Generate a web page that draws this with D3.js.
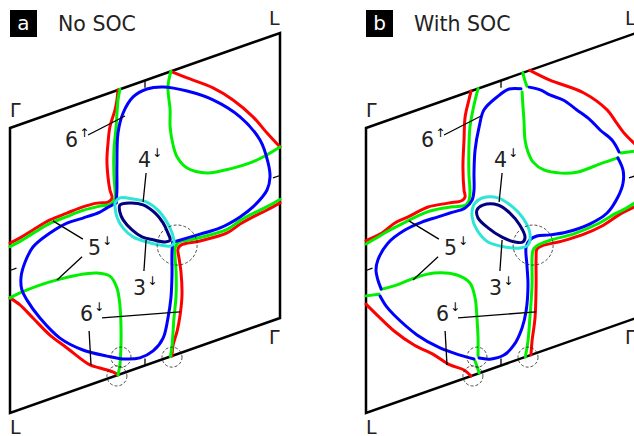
<!DOCTYPE html>
<html>
<head>
<meta charset="utf-8">
<script src="https://cdn.jsdelivr.net/npm/d3@7"></script>
<style>
  body { margin: 0; background: #fff; }
  svg { display: block; font-family: "DejaVu Sans", Verdana, sans-serif; }
</style>
</head>
<body>
<div id="chart"></div>
<script>
// contour points in cell coordinates: [along top edge %, down the side %]

// --- panel a, no SOC
const redTopA = [[59.6,0],[65.6,4.3],[75.2,11.0],[82.6,17.7],[90.0,26.1],[95.2,33.5],[100,40.0]];
const greenTopA = [[59.6,0],[58.5,5.1],[59.3,13.4],[59.3,19.4],[60.4,26.1],[61.9,30.8],[65.6,35.9],[73.0,40.1],[82.6,41.6],[88.9,41.9],[93.7,41.4],[100,40.0]];
const blueUpA = [[39.3,39.4],[39.6,34.9],[39.6,26.9],[40.0,15.1],[41.9,8.7],[45.6,4.3],[50.7,3.2],[56.7,4.5],[65.6,8.9],[75.2,15.2],[85.2,24.5],[92.6,35.1],[95.6,44.1],[96.3,49.3],[95.2,53.5],[90.0,57.7],[85.2,59.6],[77.8,61.0],[70.4,60.7],[60.3,60.2]];
const blueLowA = [[39.3,39.4],[35.9,40.0],[33.3,40.6],[27.0,40.6],[21.1,40.4],[14.8,41.8],[8.5,44.6],[5.6,48.9],[4.1,53.6],[4.4,58.3],[6.3,62.5],[11.1,70.4],[18.5,79.9],[27.0,86.9],[35.9,92.0],[41.9,95.0],[48.1,96.7],[53.0,95.9],[56.7,92.6],[58.5,86.2],[59.6,79.5],[60.0,71.6],[60.0,63.2],[60.3,60.2]];
const redLeftA = [[40.0,0],[39.6,3.4],[38.9,6.6],[37.0,12.0],[36.3,17.4],[35.9,23.2],[36.3,29.3],[37.0,34.1],[37.8,37.2],[36.3,38.1],[32.2,37.1],[27.0,36.7],[21.1,36.9],[14.8,37.2],[8.5,38.6],[3.7,39.8],[0,40.4]];
const greenLeftA = [[40.7,0],[40.0,3.5],[39.3,12.7],[38.5,20.6],[38.5,29.3],[38.9,34.7],[38.9,37.5],[37.4,39.1],[33.3,38.5],[27.0,37.9],[21.1,38.1],[14.8,38.4],[8.5,39.8],[3.7,41.0],[0,41.6]];
const redLowA = [[0,59.6],[3.7,63.3],[8.5,69.5],[14.8,77.6],[21.1,84.2],[29.6,93.0],[33.3,95.3],[38.1,98.3],[40.0,100]];
const greenLowA = [[0,59.6],[3.7,59.1],[10.0,58.8],[17.4,59.1],[24.8,59.9],[32.2,61.6],[37.0,64.3],[39.6,69.3],[40.7,75.7],[41.1,82.8],[41.1,89.9],[40.7,96.7],[40.0,100]];
const redRightA = [[60.0,100],[60.4,96.3],[61.9,91.9],[63.0,86.6],[63.7,79.8],[63.3,71.3],[62.6,66.5],[62.2,63.2],[63.3,62.2],[70.4,63.1],[80.4,63.6],[85.2,62.1],[90.0,61.2],[95.2,60.5],[100,59.6]];
const greenRightA = [[59.4,100],[60.0,96.5],[60.7,87.3],[61.5,79.4],[61.5,70.7],[61.1,65.3],[61.1,62.5],[62.6,60.9],[66.7,61.5],[70.4,61.9],[80.4,62.4],[85.2,60.9],[90.0,60.0],[95.2,59.3],[100,58.4]];
const cyanA = [[38.9,39.3],[40.7,38.1],[45.6,40.1],[50.7,42.9],[54.8,47.1],[58.1,52.4],[60.0,56.8],[60.7,60.6],[59.3,61.2],[55.6,59.6],[50.7,56.9],[45.6,53.4],[41.9,49.1],[39.6,44.4],[38.9,40.7]];
const navyA = [[40.7,40.6],[44.4,41.1],[49.3,43.4],[53.7,47.7],[56.7,52.2],[58.5,56.4],[59.3,59.1],[57.4,59.1],[53.0,56.9],[48.9,54.5],[45.2,50.8],[41.9,46.2],[40.7,43.1]];

// --- panel b, with SOC
const redTopB = [[60.7,0],[68.1,5.9],[80.7,14.6],[89.3,23.4],[92.6,28.8],[95.9,34.1],[100,39.3]];
const greenStubTopB = [[58.1,0],[58.8,2.8],[59.6,5.2]];
const blueTopRightB = [[60.4,5.8],[64.8,8.3],[68.1,11.1],[73.0,14.5],[78.1,19.7],[83.0,24.8],[86.7,29.6],[91.1,34.6],[93.7,39.6]];
const greenStubRightB = [[94.4,40.2],[100,41.4]];
const greenMainB = [[57.8,6.6],[58.1,11.3],[58.5,16.7],[58.9,23.8],[60.0,28.4],[61.9,32.6],[65.9,36.7],[72.2,39.9],[78.5,41.6],[86.7,41.5],[93.3,41.6]];
const blueRightB = [[93.3,41.6],[95.2,46.5],[95.2,51.0],[93.3,55.3],[89.3,59.6],[83.0,61.3],[74.4,61.3],[68.1,60.2],[63.3,59.0],[60.7,59.5],[59.3,61.5],[59.6,67.9],[60.0,75.1],[59.3,84.0],[57.8,89.4],[54.8,94.4],[51.1,96.7],[45.9,96.4],[41.9,94.7]];
const blueLeftB = [[57.4,5.4],[53.0,4.0],[48.5,5.3],[43.7,8.2],[41.9,13.6],[40.4,21.2],[40.0,29.1],[40.0,35.1],[39.3,38.4],[36.7,40.3],[31.1,40.2],[26.7,40.1],[20.7,39.9],[14.4,40.6],[8.1,43.1],[4.4,47.8],[3.7,51.1],[4.4,54.8],[5.6,58.3]];
const greenLowB = [[5.6,58.5],[11.5,58.9],[17.8,58.6],[25.2,59.3],[33.7,62.8],[38.5,67.2],[40.4,73.1],[41.1,80.4],[41.5,87.5],[41.5,93.8]];
const greenStubLeftB = [[0,58.9],[4.8,59.9]];
const blueLowLeftB = [[5.2,60.7],[7.4,64.9],[10.4,69.1],[18.9,78.9],[27.4,86.3],[34.8,91.3],[40.0,94.4]];
const greenStubBotB = [[40.4,95.2],[41.2,97.6],[41.9,100]];
const redLowB = [[0,61.8],[4.1,67.0],[10.4,74.7],[17.8,82.1],[25.2,88.0],[31.1,93.5],[36.3,97.0],[38.9,100]];
const redLeftB = [[38.9,0],[38.1,2.9],[36.7,8.4],[36.3,16.3],[35.9,25.6],[36.3,33.9],[36.7,36.4],[35.6,37.3],[30.4,36.5],[23.0,35.4],[15.6,36.4],[10.7,36.9],[5.9,38.8],[0,39.5]];
const greenLeftB = [[41.5,0],[40.7,2.7],[39.6,6.9],[38.5,12.5],[38.1,20.4],[38.1,28.5],[38.5,35.6],[38.1,38.3],[36.7,39.4],[31.9,38.3],[23.0,37.0],[14.4,37.9],[8.1,38.9],[3.7,39.9],[0,40.7]];
const redRightB = [[61.1,100],[61.5,95.2],[62.6,87.5],[63.0,76.1],[63.0,66.6],[63.3,63.6],[65.2,63.1],[72.6,63.9],[80.0,64.2],[87.4,63.5],[94.1,61.6],[100,60.8]];
const greenRightB = [[59.0,100],[60.0,94.7],[60.7,86.9],[61.5,75.6],[61.5,66.1],[61.9,63.4],[63.3,62.4],[68.1,62.1],[77.0,62.8],[86.1,62.2],[92.0,60.9],[96.3,60.3],[100,59.3]];
const cyanB = [[40.4,39.8],[43.0,38.9],[48.9,40.8],[54.4,45.9],[58.1,50.9],[60.7,57.1],[60.0,61.1],[57.0,61.1],[51.5,58.9],[45.2,55.1],[41.1,49.5],[39.3,44.3],[39.6,40.9]];
const navyB = [[41.1,42.5],[43.3,41.5],[48.9,43.3],[53.3,47.6],[57.0,53.1],[58.9,57.9],[58.1,59.4],[55.2,58.4],[50.4,55.1],[45.2,50.1],[41.5,45.4]];

// --- annotations shared by both panels
const bandNames = ['6', '4', '5', '3', '6'];
const bandSpins = ['↑', '↓', '↓', '↓', '↓'];
const bandSpots = [[20.4,13.5],[47.4,29.5],[28.9,54.2],[45.6,73.8],[25.9,76.4]];
const leaders = [
  [[28.9,12.1],[42.6,10.0]],
  [[50.4,32.6],[49.3,42.4]],
  [[27.0,48.0],[15.9,37.9]],
  [[26.7,54.1],[17.4,59.1]],
  [[49.6,66.7],[50.4,56.1]],
  [[34.1,78.0],[63.0,85.5]],
  [[29.3,81.0],[30.0,93.2]]
];
const bigRings = [[61.9,61.7]];
const smallRings = [[41.1,94.1],[39.6,100.2],[60.0,100.4]];
const edgeTicks = [[[50,0],[50,2.5]],[[100,50],[97.4,50]],[[50,100],[50,97.5]],[[0,50],[2.4,50]]];
const cornerNames = ['Γ', 'L', 'Γ', 'L'];
const cellCorners = [[0,0],[100,0],[100,100],[0,100]];

const RED = '#ff0000', GREEN = '#00f000', BLUE = '#0000ff', CYAN = '#2ee6d6', NAVY = '#000080';

const width = 634, height = 436;
const side = 270, depth = 285, tilt = 95, topY = 128;

const svg = d3.select('#chart').append('svg')
    .attr('width', width)
    .attr('height', height);

const xScale = d3.scaleLinear().domain([0, 100]).range([0, side]);
const yScale = d3.scaleLinear().domain([0, 100]).range([0, depth]);
const tiltScale = d3.scaleLinear().domain([0, 100]).range([0, -tilt]);

const px = d => xScale(d[0]);
const py = d => yScale(d[1]) + tiltScale(d[0]);

const line = d3.line().x(px).y(py).curve(d3.curveCatmullRom.alpha(0.5));
const loop = d3.line().x(px).y(py).curve(d3.curveCatmullRomClosed.alpha(0.5));
const straight = d3.line().x(px).y(py);

const panels = [
  { letter: 'a', title: 'No SOC', left: 10,
    curves: [
      [redTopA, RED], [greenTopA, GREEN], [redLeftA, RED], [greenLeftA, GREEN],
      [redLowA, RED], [greenLowA, GREEN], [redRightA, RED], [greenRightA, GREEN],
      [blueUpA, BLUE], [blueLowA, BLUE]
    ],
    loops: [[cyanA, CYAN], [navyA, NAVY]] },
  { letter: 'b', title: 'With SOC', left: 366,
    curves: [
      [redTopB, RED], [greenStubTopB, GREEN], [greenMainB, GREEN], [greenStubRightB, GREEN],
      [redLeftB, RED], [greenLeftB, GREEN], [redLowB, RED], [greenLowB, GREEN],
      [greenStubLeftB, GREEN], [greenStubBotB, GREEN], [redRightB, RED], [greenRightB, GREEN],
      [blueTopRightB, BLUE], [blueLeftB, BLUE], [blueRightB, BLUE], [blueLowLeftB, BLUE]
    ],
    loops: [[cyanB, CYAN], [navyB, NAVY]] }
];

// label offsets from each cell corner
const cornerShift = [[0, -11], [-11, -8], [-11, 26], [0, 21]];

panels.forEach(p => {
  // title
  svg.append('rect')
      .attr('x', p.left).attr('y', 10)
      .attr('width', 27).attr('height', 27)
      .attr('fill', '#000');
  svg.append('text')
      .attr('x', p.left + 13.5).attr('y', 30)
      .attr('text-anchor', 'middle')
      .attr('fill', '#fff')
      .style('font-size', '20px')
      .text(p.letter);
  svg.append('text')
      .attr('x', p.left + 48).attr('y', 31)
      .attr('fill', '#222')
      .style('font-size', '20.5px')
      .text(p.title);

  const g = svg.append('g').attr('transform', `translate(${p.left}, ${topY})`);

  g.append('path')
      .attr('d', straight(cellCorners) + 'Z')
      .attr('fill', 'none')
      .attr('stroke', '#000')
      .attr('stroke-width', 2.5);

  g.selectAll('.tick').data(edgeTicks).join('path')
      .attr('class', 'tick')
      .attr('d', straight)
      .attr('stroke', '#000')
      .attr('stroke-width', 1.3);

  g.selectAll('.corner').data(cellCorners).join('text')
      .attr('class', 'corner')
      .attr('x', (d, i) => px(d) + cornerShift[i][0])
      .attr('y', (d, i) => py(d) + cornerShift[i][1])
      .attr('fill', '#222')
      .style('font-size', '19px')
      .text((d, i) => cornerNames[i]);

  g.selectAll('.band').data(p.curves).join('path')
      .attr('class', 'band')
      .attr('d', d => line(d[0]))
      .attr('fill', 'none')
      .attr('stroke', d => d[1])
      .attr('stroke-width', 3)
      .attr('stroke-linecap', 'round')
      .attr('stroke-linejoin', 'round');

  g.selectAll('.pocket').data(p.loops).join('path')
      .attr('class', 'pocket')
      .attr('d', d => loop(d[0]))
      .attr('fill', 'none')
      .attr('stroke', d => d[1])
      .attr('stroke-width', 3);

  g.selectAll('.leader').data(leaders).join('path')
      .attr('class', 'leader')
      .attr('d', straight)
      .attr('stroke', '#000')
      .attr('stroke-width', 1.3);

  const lab = g.selectAll('.lab').data(bandSpots).join('text')
      .attr('class', 'lab')
      .attr('x', px)
      .attr('y', py)
      .attr('fill', '#222')
      .style('font-size', '20.5px')
      .text((d, i) => bandNames[i]);
  lab.append('tspan')
      .attr('dx', 1).attr('dy', -10)
      .attr('fill', '#000')
      .style('font-size', '12px')
      .style('font-family', '"DejaVu Sans"')
      .text((d, i) => bandSpins[i]);

  g.selectAll('.ring').data(bigRings.map(c => [c, 20]).concat(smallRings.map(c => [c, 10])))
    .join('circle')
      .attr('class', 'ring')
      .attr('cx', d => px(d[0]))
      .attr('cy', d => py(d[0]))
      .attr('r', d => d[1])
      .attr('fill', 'none')
      .attr('stroke', '#222')
      .attr('stroke-width', 0.8)
      .attr('stroke-dasharray', '3,2');
});
</script>
</body>
</html>
